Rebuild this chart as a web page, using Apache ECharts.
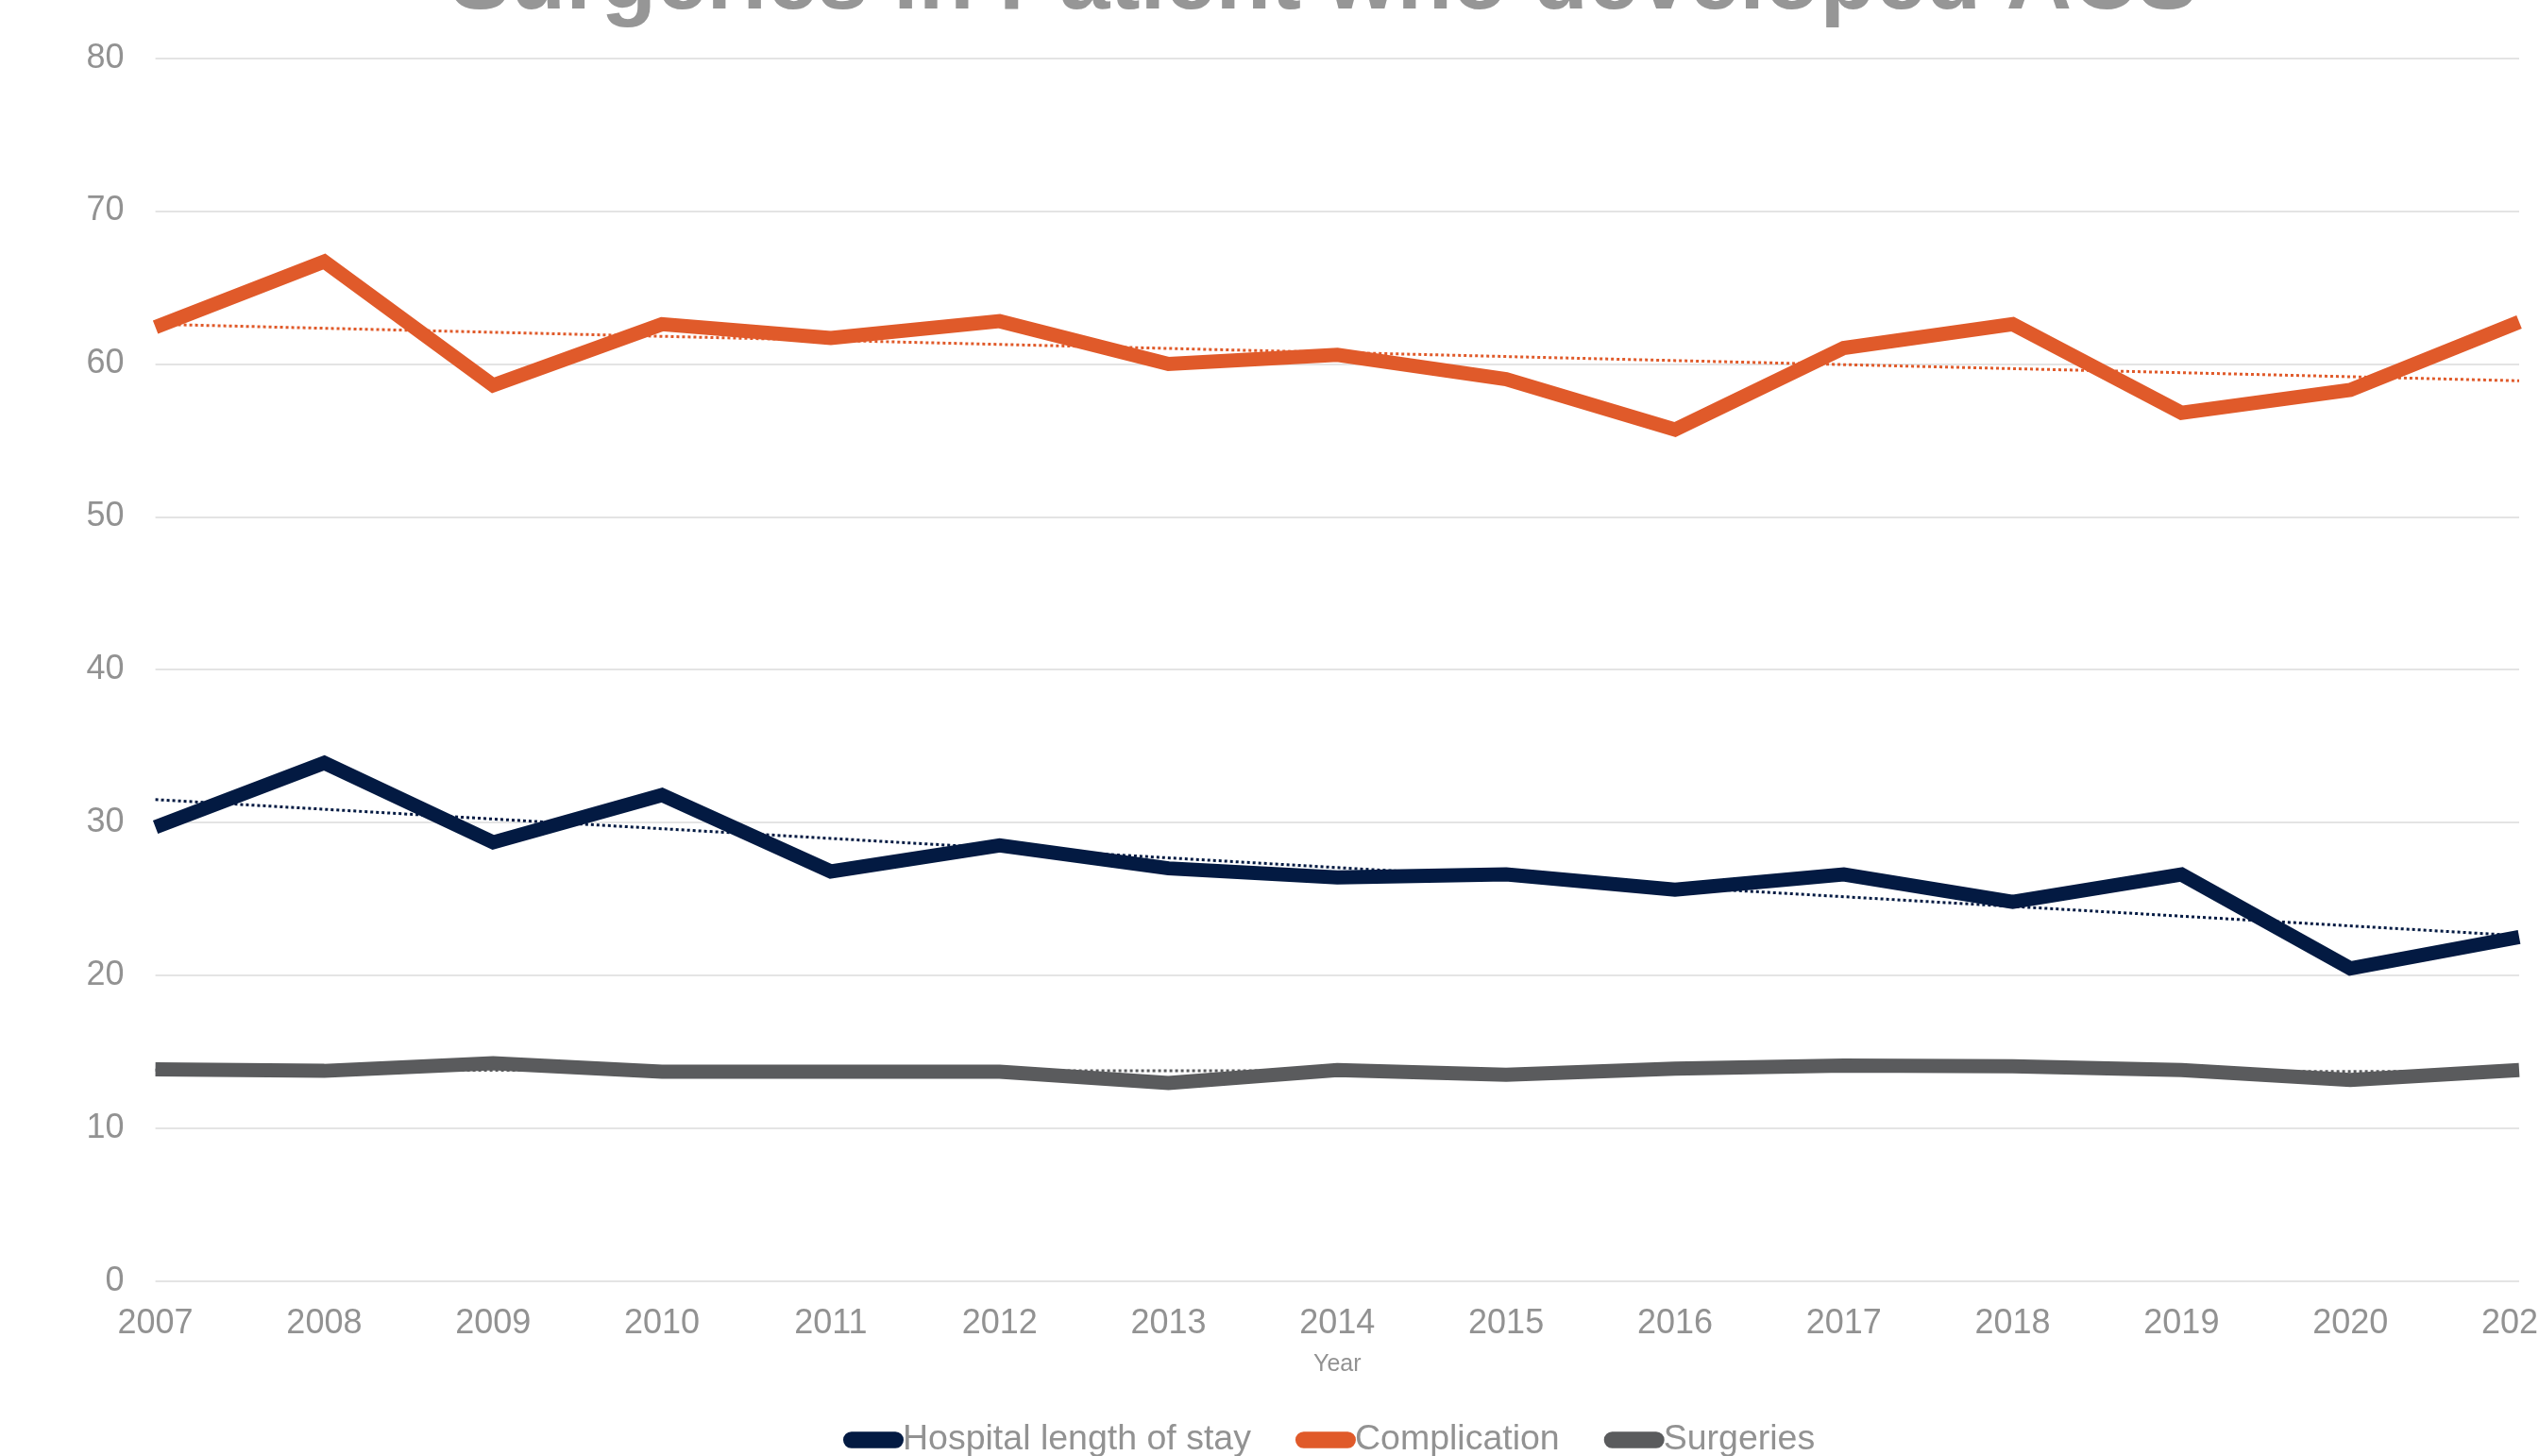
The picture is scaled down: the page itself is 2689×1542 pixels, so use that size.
<!DOCTYPE html>
<html>
<head>
<meta charset="utf-8">
<style>
  html, body { margin: 0; padding: 0; background: #ffffff; }
  #chart { width: 2689px; height: 1542px; }
</style>
<script src="https://cdn.jsdelivr.net/npm/echarts@6/dist/echarts.min.js"></script>
</head>
<body>
<div id="chart"></div>
<script>
// ---- data ----
const years = ['2007','2008','2009','2010','2011','2012','2013','2014','2015','2016','2017','2018','2019','2020','2021'];
const hospitalStay = [29.7, 33.9, 28.7, 31.8, 26.8, 28.5, 27.0, 26.4, 26.6, 25.6, 26.6, 24.8, 26.6, 20.45, 22.5];
const complication = [62.4, 66.7, 58.6, 62.6, 61.7, 62.8, 60.0, 60.6, 59.0, 55.7, 61.05, 62.6, 56.8, 58.3, 62.75];
const surgeries    = [13.85, 13.75, 14.25, 13.7, 13.7, 13.7, 12.95, 13.8, 13.5, 13.9, 14.1, 14.05, 13.8, 13.15, 13.8];
// dotted trend lines: value at first and last year
const trendYears = ['2007', '2021'];
const hospitalTrend = [31.5, 22.6];
const complicationTrend = [62.6, 58.9];
const surgeriesTrend = [13.8, 13.7];
const yTicks = { min: 0, max: 80, interval: 10 };
const seriesNames = ['Hospital length of stay', 'Complication', 'Surgeries'];
const titleText = 'Surgeries in Patient who developed ACS';

const colors = { hospital: '#031a42', complication: '#e05a2a', surgeries: '#5a5b5d' };
const textGray = '#929292';
const font = '"Liberation Sans", Arial, sans-serif';

function pairs(xs, ys) { return xs.map((x, i) => [x, ys[i]]); }

function trendSeries(name, vals, color) {
  return {
    name: name, type: 'line', data: pairs(trendYears, vals),
    showSymbol: false, symbol: 'none', silent: true, z: 1,
    lineStyle: { color: color, width: 3, type: [3, 3], cap: 'butt' }
  };
}
function mainSeries(name, vals, color) {
  return {
    name: name, type: 'line', data: vals,
    showSymbol: false, symbol: 'none', z: 3,
    itemStyle: { color: color },
    lineStyle: { color: color, width: 15, join: 'miter', cap: 'butt' }
  };
}

const chart = echarts.init(document.getElementById('chart'), null, { renderer: 'canvas' });
const pill = 'path://M9,0 H57 A9,9 0 0 1 57,18 H9 A9,9 0 0 1 9,0 Z';

chart.setOption({
  animation: false,
  backgroundColor: '#ffffff',
  graphic: [{
    type: 'text', x: 1402, y: -17, z: 10,
    style: {
      text: titleText, x: 0, y: 0, align: 'center', verticalAlign: 'middle',
      fill: '#969696', font: 'bold 96px ' + font
    }
  }],
  grid: { left: 164.6, right: 21, top: 61.7, bottom: 185.3, containLabel: false, outerBoundsMode: 'none' },
  legend: {
    data: seriesNames.map(n => ({ name: n, icon: pill })),
    left: 893, top: 1506, padding: 0,
    itemWidth: 64, itemHeight: 18, itemGap: 47,
    textStyle: { color: textGray, fontSize: 37.5, fontFamily: font, padding: [0, 0, 0, -6] }
  },
  xAxis: {
    type: 'category', data: years, boundaryGap: false,
    name: 'Year', nameLocation: 'middle', nameGap: 76,
    nameTextStyle: { color: textGray, fontSize: 25, fontFamily: font },
    axisLine: { show: false }, axisTick: { show: false },
    axisLabel: { color: textGray, fontSize: 36, fontFamily: font, margin: 27, interval: 0 },
    splitLine: { show: false }
  },
  yAxis: {
    type: 'value', min: yTicks.min, max: yTicks.max, interval: yTicks.interval,
    axisLine: { show: false }, axisTick: { show: false },
    axisLabel: { color: textGray, fontSize: 36, fontFamily: font, margin: 33 },
    splitLine: { lineStyle: { color: '#e4e4e4', width: 2 } }
  },
  series: [
    trendSeries('Hospital trend', hospitalTrend, colors.hospital),
    trendSeries('Complication trend', complicationTrend, colors.complication),
    trendSeries('Surgeries trend', surgeriesTrend, colors.surgeries),
    mainSeries(seriesNames[0], hospitalStay, colors.hospital),
    mainSeries(seriesNames[1], complication, colors.complication),
    mainSeries(seriesNames[2], surgeries, colors.surgeries)
  ]
});
</script>
</body>
</html>
